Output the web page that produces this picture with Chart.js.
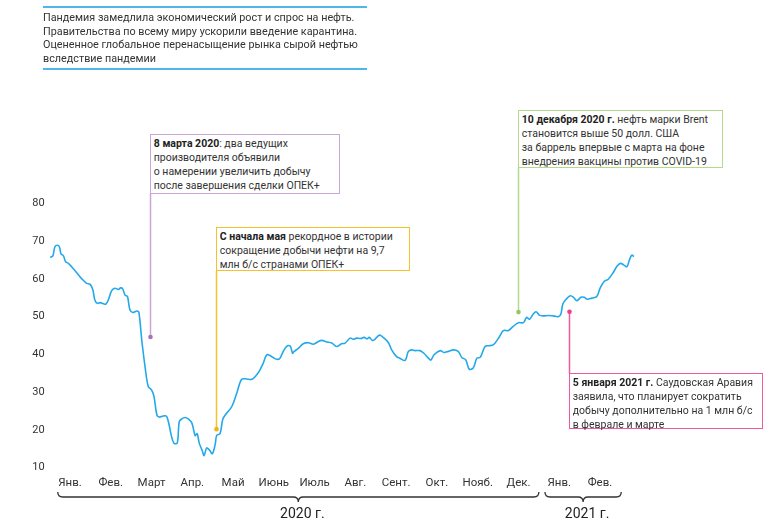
<!DOCTYPE html>
<html>
<head>
<meta charset="utf-8">
<script src="https://cdn.jsdelivr.net/npm/chart.js@4.4.1/dist/chart.umd.min.js"></script>
<style>
  body { margin: 0; width: 763px; height: 523px; position: relative; background: #fff; overflow: hidden;
         font-family: Roboto, "Noto Sans", sans-serif; color: #333; }
  canvas { position: absolute; left: 0; top: 0; }
  .header { position: absolute; left: 43px; top: 6px; width: 324px; box-sizing: border-box;
            border-top: 2px solid #4fb6e8; border-bottom: 2px solid #4fb6e8;
            font-size: 10.8px; line-height: 13.5px; padding: 3px 0 3px 0; color: #333; }
  .note { position: absolute; background: #fff; font-size: 10.5px; line-height: 14px; color: #333;
          padding: 2px 3px; box-sizing: border-box; border: 1.5px solid; white-space: nowrap; }
  .note b { font-weight: 700; color: #222; }
</style>
</head>
<body>
<canvas id="brentChart" width="763" height="523"></canvas>

<div class="header">
  Пандемия замедлила экономический рост и спрос на нефть.<br>
  Правительства по всему миру ускорили введение карантина.<br>
  Оцененное глобальное перенасыщение рынка сырой нефтью<br>
  вследствие пандемии
</div>

<div class="note" id="note0" style="top:134px;width:190px;height:60px;border-color:#c9a6d6">
  <b>8 марта 2020</b>: два ведущих<br>производителя объявили<br>о намерении увеличить добычу<br>после завершения сделки ОПЕК+
</div>
<div class="note" id="note1" style="top:227px;width:194px;height:44px;border-color:#f7c12e">
  <b>С начала мая</b> рекордное в истории<br>сокращение добычи нефти на 9,7<br>млн б/с странами ОПЕК+
</div>
<div class="note" id="note2" style="top:110px;width:205px;height:58px;border-color:#b3d98a">
  <b>10 декабря 2020 г.</b> нефть марки Brent<br>становится выше 50 долл. США<br>за баррель впервые с марта на фоне<br>внедрения вакцины против COVID-19
</div>
<div class="note" id="note3" style="top:373px;width:194px;height:56px;border-color:#ee5a9c">
  <b>5 января 2021 г.</b> Саудовская Аравия<br>заявила, что планирует сократить<br>добычу дополнительно на 1 млн б/с<br>в феврале и марте
</div>

<script>
// month labels (Jan 2020 .. Feb 2021), label i sits in the middle of month i
const monthLabels = ['Янв.', 'Фев.', 'Март', 'Апр.', 'Май', 'Июнь', 'Июль', 'Авг.',
                     'Сент.', 'Окт.', 'Нояб.', 'Дек.', 'Янв.', 'Фев.'];
const yTicks = [10, 20, 30, 40, 50, 60, 70, 80];

// years and the month ranges their braces cover
const years = ['2020 г.', '2021 г.'];
const yearFrom = [0.2, 12.15];
const yearTo = [12.0, 14.02];

// time in months since 1 Jan 2020
const monthPos = [
  0.01, 0.08, 0.13, 0.19, 0.24, 0.28, 0.34, 0.39, 0.46, 0.54, 0.66, 0.79, 0.91, 0.99,
  1.06, 1.11, 1.17, 1.24, 1.32, 1.38, 1.44, 1.52, 1.60, 1.69, 1.74, 1.79, 1.85, 1.91, 1.97,
  2.04, 2.14, 2.19, 2.26, 2.34, 2.42, 2.50, 2.56, 2.63, 2.69, 2.79, 2.87, 2.94, 2.99,
  3.05, 3.13, 3.18, 3.24, 3.32, 3.40, 3.49, 3.57, 3.62, 3.67, 3.74, 3.79, 3.85, 3.92, 3.99,
  4.06, 4.10, 4.18, 4.25, 4.34, 4.47, 4.59, 4.71, 4.83, 4.96,
  5.08, 5.16, 5.24, 5.33, 5.45, 5.57, 5.65, 5.73, 5.82, 5.90, 5.96, 5.99,
  6.10, 6.22, 6.35, 6.47, 6.59, 6.67, 6.80, 6.92,
  7.04, 7.16, 7.25, 7.37, 7.45, 7.53, 7.63, 7.71, 7.79, 7.84, 7.92, 7.98,
  8.09, 8.18, 8.31, 8.39, 8.51, 8.59, 8.72, 8.80, 8.88, 8.96,
  9.08, 9.18, 9.29, 9.35, 9.43, 9.58, 9.67, 9.78, 9.90,
  10.02, 10.11, 10.21, 10.29, 10.39, 10.48, 10.56, 10.68, 10.76, 10.88,
  11.01, 11.13, 11.25, 11.37, 11.50, 11.62, 11.70, 11.77, 11.85, 11.93,
  12.01, 12.11, 12.23, 12.35, 12.48, 12.54, 12.59, 12.67, 12.77, 12.85, 12.93,
  13.03, 13.11, 13.19, 13.30, 13.42, 13.50, 13.60, 13.70, 13.82, 13.92,
  14.00, 14.08, 14.16, 14.22, 14.28, 14.33
];

// Brent, USD per barrel
const brentPrice = [
  65.7, 66.1, 68.5, 68.9, 68.5, 66.6, 66.1, 64.6, 64.1, 63.2, 61.7, 60.0, 58.8, 58.6,
  57.1, 54.4, 53.5, 53.7, 53.4, 53.3, 54.4, 56.8, 57.5, 57.2, 57.6, 57.4, 55.7, 55.3, 51.8,
  51.1, 51.5, 51.1, 43.8, 36.8, 31.5, 30.6, 28.9, 24.0, 23.4, 23.7, 23.6, 20.9, 18.3,
  16.5, 16.5, 22.2, 22.9, 23.3, 22.9, 21.8, 18.5, 19.0, 16.5, 14.6, 13.2, 15.2, 14.7, 13.7,
  16.1, 18.6, 19.0, 22.9, 24.4, 26.2, 29.7, 33.4, 33.5, 33.4,
  34.6, 35.9, 37.7, 39.9, 39.4, 38.7, 39.0, 40.8, 42.2, 42.2, 40.3, 40.7,
  41.6, 42.8, 43.1, 42.7, 43.4, 43.7, 43.3, 43.0,
  42.1, 42.8, 43.0, 44.3, 44.0, 44.3, 44.2, 44.5, 44.1, 44.5, 43.7, 44.0,
  45.1, 44.5, 43.1, 41.2, 39.4, 39.0, 38.4, 40.8, 41.2, 41.0,
  41.0, 40.3, 39.0, 38.5, 39.9, 41.0, 40.5, 40.8, 41.2,
  40.8, 39.2, 38.5, 36.1, 36.4, 39.0, 39.2, 42.1, 42.3, 42.5,
  44.3, 46.3, 46.3, 47.4, 48.4, 48.4, 49.8, 49.3, 50.5, 51.3,
  50.4, 50.2, 50.3, 50.2, 50.0, 50.7, 53.4, 54.6, 55.5, 55.1, 54.2,
  55.1, 55.1, 54.6, 54.9, 55.3, 57.5, 59.3, 59.9, 61.6, 63.4,
  64.1, 63.7, 63.2, 65.0, 66.3, 65.9
];

// annotation anchor points (month, price) and colours
const noteAt = [2.46, 4.08, 11.50, 12.75];
const noteValue = [44.6, 20.2, 51.2, 51.3];
const noteLine = ['#c9a6d6', '#f7c12e', '#b3d98a', '#ee5a9c'];
const noteDot = ['#a870b8', '#f2b316', '#98c765', '#ea3f8b'];

const points = monthPos.map((m, i) => ({ x: m, y: brentPrice[i] }));

// connectors + dots, and moves the boxes onto their connector
const notesPlugin = {
  id: 'notes',
  afterDatasetsDraw(chart) {
    const ctx = chart.ctx;
    const xs = chart.scales.x, ys = chart.scales.y;
    noteAt.forEach((m, i) => {
      const px = Math.round(xs.getPixelForValue(m)) + 0.5;
      const py = ys.getPixelForValue(noteValue[i]);
      const box = document.getElementById('note' + i);
      box.style.left = (px - 0.75) + 'px';
      const top = box.offsetTop, bottom = top + box.offsetHeight;
      const edge = py > bottom ? bottom : top;
      ctx.save();
      ctx.strokeStyle = noteLine[i];
      ctx.lineWidth = 1.5;
      ctx.beginPath();
      ctx.moveTo(px, edge);
      ctx.lineTo(px, py);
      ctx.stroke();
      ctx.fillStyle = noteDot[i];
      ctx.beginPath();
      ctx.arc(px, py, 2.3, 0, Math.PI * 2);
      ctx.fill();
      ctx.restore();
    });
  }
};

// curly braces under the month labels with the year names
const yearsPlugin = {
  id: 'years',
  afterDraw(chart) {
    const ctx = chart.ctx;
    const xs = chart.scales.x;
    const y0 = 492, y1 = 497, y2 = 502, r = 5;
    ctx.save();
    ctx.strokeStyle = '#333';
    ctx.lineWidth = 1.3;
    years.forEach((label, i) => {
      const a = xs.getPixelForValue(yearFrom[i]);
      const b = xs.getPixelForValue(yearTo[i]);
      const mid = (a + b) / 2;
      ctx.beginPath();
      ctx.moveTo(a, y0);
      ctx.quadraticCurveTo(a, y1, a + r, y1);
      ctx.lineTo(mid - r, y1);
      ctx.quadraticCurveTo(mid, y1, mid, y2);
      ctx.quadraticCurveTo(mid, y1, mid + r, y1);
      ctx.lineTo(b - r, y1);
      ctx.quadraticCurveTo(b, y1, b, y0);
      ctx.stroke();
      ctx.fillStyle = '#222';
      ctx.font = '14px "Liberation Sans Narrow", Roboto, sans-serif';
      ctx.textAlign = 'center';
      ctx.textBaseline = 'middle';
      ctx.fillText(label, mid + 4, 514);
    });
    ctx.restore();
  }
};

new Chart(document.getElementById('brentChart'), {
  type: 'line',
  data: {
    datasets: [{
      data: points,
      borderColor: '#23a9ea',
      borderWidth: 1.6,
      pointRadius: 0,
      fill: false,
      tension: 0.35
    }]
  },
  options: {
    responsive: false,
    animation: false,
    devicePixelRatio: 1,
    layout: { padding: { top: 203.3, right: 122.2, left: 0, bottom: 0 } },
    plugins: { legend: { display: false }, tooltip: { enabled: false } },
    scales: {
      x: {
        type: 'linear',
        min: 0,
        max: 14.5,
        grid: { display: false, drawTicks: false },
        border: { display: false },
        afterFit: (scale) => { scale.height = 55.3; },
        afterBuildTicks: (scale) => { scale.ticks = monthLabels.map((l, i) => ({ value: i + 0.5 })); },
        ticks: {
          autoSkip: false,
          maxRotation: 0,
          padding: 9,
          color: '#333',
          font: { family: '"Liberation Sans Narrow", Roboto, sans-serif', size: 11.5 },
          callback: (v, i) => monthLabels[i]
        }
      },
      y: {
        min: 10,
        max: 80,
        grid: { display: false, drawTicks: false },
        border: { display: false },
        afterFit: (scale) => { scale.width = 49.6; },
        afterBuildTicks: (scale) => { scale.ticks = yTicks.map(v => ({ value: v })); },
        ticks: {
          padding: 5,
          color: '#333',
          font: { family: 'Roboto, sans-serif', size: 11 }
        }
      }
    }
  },
  plugins: [notesPlugin, yearsPlugin]
});
</script>
</body>
</html>
